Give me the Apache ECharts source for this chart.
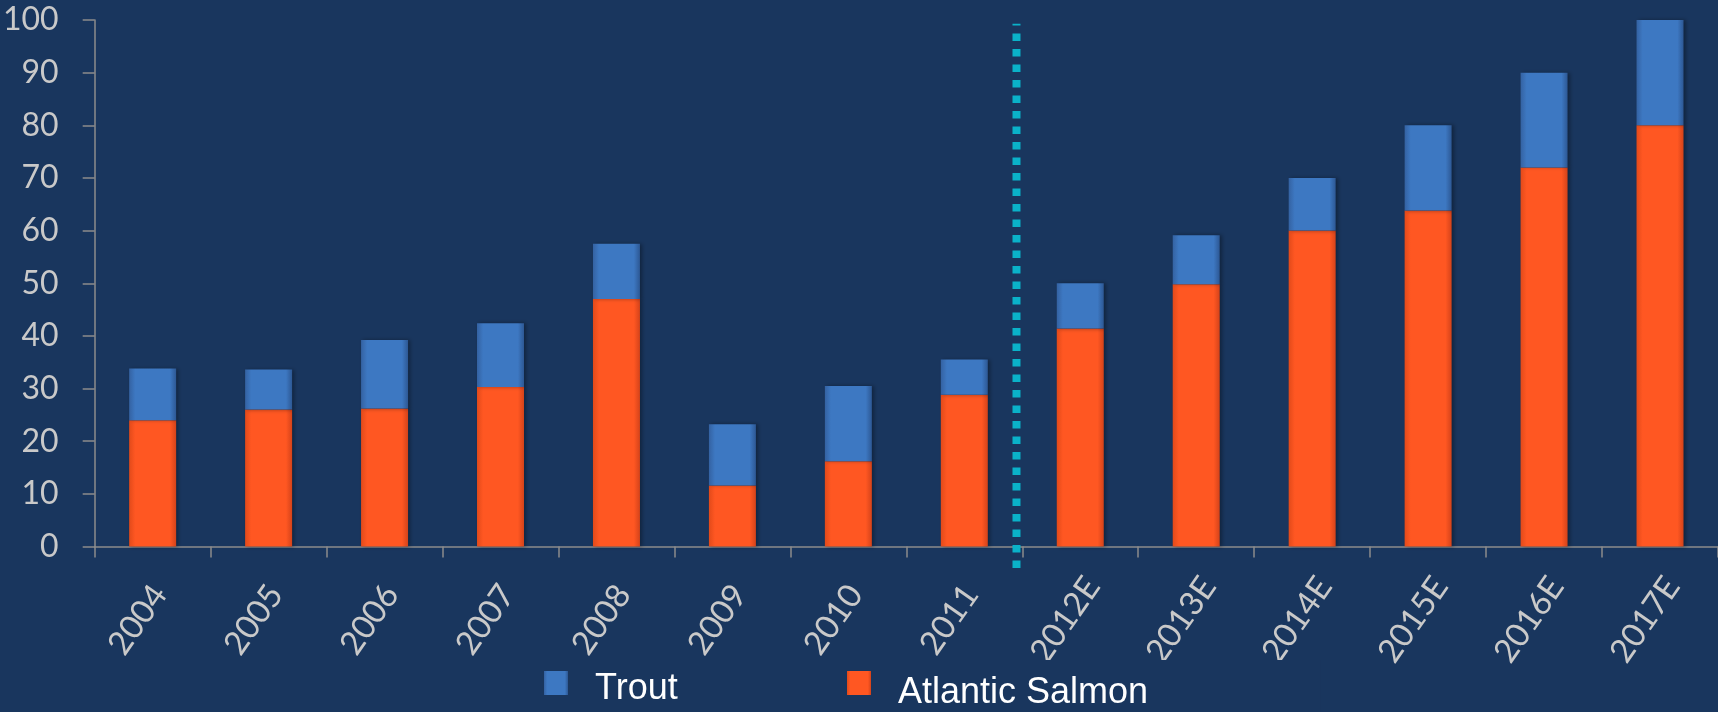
<!DOCTYPE html>
<html>
<head>
<meta charset="utf-8">
<script src="https://cdn.jsdelivr.net/npm/echarts@6/dist/echarts.min.js"></script>
<style>
  html, body { margin: 0; padding: 0; background: #19365E; }
  #chart { width: 1718px; height: 712px; }
</style>
</head>
<body>
<div id="chart"></div>
<script>
const categories = ['2004', '2005', '2006', '2007', '2008', '2009', '2010', '2011', '2012E', '2013E', '2014E', '2015E', '2016E', '2017E'];
const atlanticSalmon = [24, 26, 26.2, 30.3, 47, 11.6, 16.2, 28.8, 41.4, 49.8, 60, 63.8, 72, 80];
const trout = [9.8, 7.6, 13, 12.1, 10.5, 11.6, 14.3, 6.7, 8.6, 9.3, 10, 16.2, 18, 20];
const yTicks = { min: 0, max: 100, interval: 10 };
const separatorX = 7.95;          // between 2011 and 2012E (category units)
const separatorRange = [-4.1, 99.3];

const chart = echarts.init(document.getElementById('chart'), null, { renderer: 'canvas' });

function hGrad(edgeL, mid, edgeR) {
  return new echarts.graphic.LinearGradient(0, 0, 1, 0, [
    { offset: 0, color: edgeL },
    { offset: 0.13, color: mid },
    { offset: 0.87, color: mid },
    { offset: 1, color: edgeR }
  ]);
}
const salmonColor = hGrad('#E24A1A', '#FF5722', '#D4431A');
const troutColor = hGrad('#3462A2', '#3D78C2', '#2D5894');

const bg = '#19365E';
const axisGray = '#8C8C8C';
const labelGray = '#C9C9C9';

// legend icon: 24x24 square placed at the top of a taller (invisible) icon box,
// so the legend text sits a little lower than the square, as in the reference
function iconPath(h) {
  return 'path://M0,0L24,0L24,24L0,24Z M0,' + (h - 0.01) + 'L0.01,' + h + 'L0,' + h + 'Z';
}
const legendText = { color: '#FFFFFF', fontFamily: 'Liberation Sans', fontSize: 36, padding: [0, 0, 0, 22] };

chart.setOption({
  backgroundColor: bg,
  animation: false,
  grid: { left: 94, right: 0, top: 20, bottom: 165.5, containLabel: false },
  legend: [
    {
      data: ['Trout'],
      left: 544, top: 671, padding: 0,
      itemWidth: 24, itemHeight: 36,
      icon: iconPath(36),
      textStyle: legendText
    },
    {
      data: ['Atlantic Salmon'],
      left: 840, top: 660, padding: [11, 172, 0, 7],
      backgroundColor: bg,
      itemWidth: 24, itemHeight: 44,
      icon: iconPath(44),
      textStyle: legendText
    }
  ],
  xAxis: [
    {
      type: 'category',
      data: categories,
      boundaryGap: true,
      axisLine: { lineStyle: { color: axisGray, width: 1.5 } },
      axisTick: { show: true, interval: 0, length: 11, lineStyle: { color: axisGray, width: 1.5 } },
      axisLabel: {
        interval: 0, rotate: 55, margin: 52,
        align: 'center', verticalAlign: 'middle', padding: [0, 52, 0, 0],
        color: labelGray, fontFamily: 'Lato', fontSize: 33
      },
      splitLine: { show: false }
    },
    {
      type: 'value', min: 0, max: categories.length, show: false
    }
  ],
  yAxis: {
    type: 'value',
    min: yTicks.min, max: yTicks.max, interval: yTicks.interval,
    axisLine: { show: true, lineStyle: { color: axisGray, width: 1.5 } },
    axisTick: { show: true, length: 12, lineStyle: { color: axisGray, width: 1.5 } },
    axisLabel: { color: labelGray, fontFamily: 'Lato', fontSize: 32, margin: 36 },
    splitLine: { show: false }
  },
  series: [
    {
      name: 'Atlantic Salmon', type: 'bar', stack: 'total', barWidth: 47,
      data: atlanticSalmon,
      itemStyle: { color: salmonColor, shadowColor: 'rgba(0,0,0,0.35)', shadowBlur: 4, shadowOffsetX: 2 }
    },
    {
      name: 'Trout', type: 'bar', stack: 'total', barWidth: 47,
      data: trout,
      itemStyle: { color: troutColor, shadowColor: 'rgba(0,0,0,0.35)', shadowBlur: 4, shadowOffsetX: 2 }
    },
    {
      name: 'separator', type: 'line', xAxisIndex: 1, yAxisIndex: 0,
      data: [[separatorX, separatorRange[0]], [separatorX, separatorRange[1]]],
      symbol: 'none', clip: false, silent: true, z: 5,
      lineStyle: { color: '#0AB2C9', width: 8, type: [7.5, 8], cap: 'butt' }
    }
  ]
});
</script>
</body>
</html>
